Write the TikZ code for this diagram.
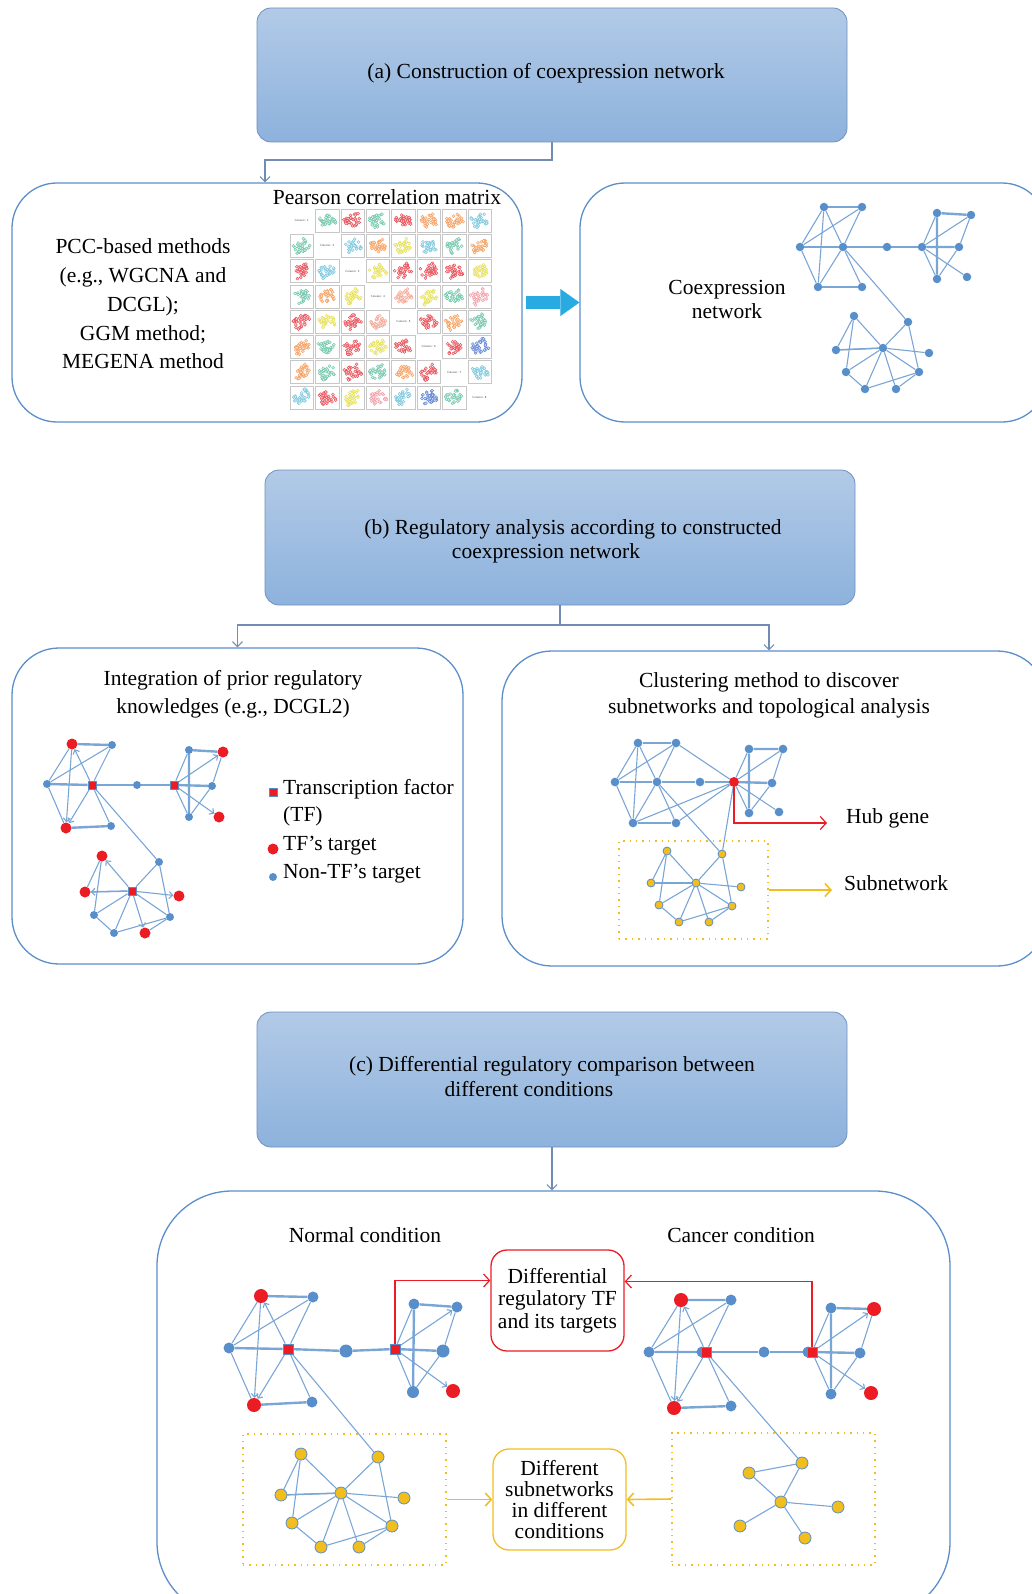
\documentclass[tikz,border=0pt]{standalone}
\usepackage{fontspec}
\setmainfont{Liberation Serif}
\usetikzlibrary{arrows.meta,backgrounds,calc}
\definecolor{lineblue}{RGB}{122,166,214}
\definecolor{nodeblue}{RGB}{88,143,202}
\definecolor{redc}{RGB}{236,28,36}
\definecolor{yellc}{RGB}{242,190,30}
\definecolor{boxblue}{RGB}{92,142,202}
\definecolor{connc}{RGB}{112,140,178}
\definecolor{hdrtop}{RGB}{178,202,231}
\definecolor{hdrbot}{RGB}{141,178,220}
\definecolor{hdrline}{RGB}{110,145,190}
\definecolor{cyanc}{RGB}{40,170,226}
\definecolor{mteal}{RGB}{102,194,165}
\definecolor{mred}{RGB}{232,60,70}
\definecolor{morange}{RGB}{246,150,80}
\definecolor{msalmon}{RGB}{244,160,140}
\definecolor{mpink}{RGB}{242,150,160}
\definecolor{myellow}{RGB}{228,222,70}
\definecolor{mcyan}{RGB}{110,195,220}
\definecolor{mblue}{RGB}{80,120,210}

% six-node cluster (left part of a network)
\newcommand{\aedges}[2]{%
  \draw[tlnk] (#1tl)--(#1tr) (#1l)--(#1h) (#1bl)--(#1br);
  \draw[lnk] (#1tl)--(#1l) (#1l)--(#1tr) (#1tr)--(#1h) (#1l)--(#1bl) (#1h)--(#1br);
  \draw[#2] (#1h)--(#1tl); \draw[#2] (#1h)--(#1bl); \draw[#2] (#1tl)--(#1bl);}
% six-node cluster (right part)
\newcommand{\bedges}[2]{%
  \draw[tlnk] (#1btl)--(#1btr) (#1btl)--(#1bbl) (#1bh)--(#1brt);
  \draw[lnk] (#1bh)--(#1btl) (#1btr)--(#1brt) (#1brt)--(#1bbl) (#1bh)--(#1bbl);
  \draw[#2] (#1bh)--(#1btr); \draw[#2] (#1bh)--(#1bbr);}
% nine-node cluster (bottom part)
\newcommand{\cedges}[2]{%
  \draw[lnk] (#1c1)--(#1c3) (#1c1)--(#1c6) (#1c4)--(#1c2) (#1c2)--(#1c7) (#1c4)--(#1c6)
             (#1c4)--(#1c8) (#1c4)--(#1c7) (#1c6)--(#1c8) (#1c8)--(#1c7) (#1c9)--(#1c7);
  \draw[lnk, line width=1.5pt] (#1c3)--(#1c4);
  \draw[#2] (#1c4)--(#1c1); \draw[#2] (#1c4)--(#1c3); \draw[#2] (#1c4)--(#1c5); \draw[#2] (#1c4)--(#1c9);}

\begin{document}
\begin{tikzpicture}[x=1pt,y=-1pt,
  bn/.style={circle, fill=nodeblue, inner sep=0pt, minimum size=#1}, bn/.default=9pt,
  rn/.style={circle, fill=redc, inner sep=0pt, minimum size=#1}, rn/.default=12pt,
  tf/.style={rectangle, fill=redc, draw=nodeblue, line width=0.8pt, inner sep=0pt, minimum size=#1}, tf/.default=9pt,
  yn/.style={circle, fill=yellc, draw=nodeblue, line width=0.8pt, inner sep=0pt, minimum size=#1}, yn/.default=10pt,
  lnk/.style={draw=lineblue, line width=1.1pt},
  tlnk/.style={draw=lineblue, line width=2.4pt},
  arr/.style={draw=lineblue, line width=1.1pt, -{Straight Barb[length=3.5pt,width=7pt]}},
  bigbox/.style={draw=boxblue, line width=1.3pt, rounded corners=#1, inner sep=0pt},
  hdr/.style={draw=hdrline, line width=0.8pt, rounded corners=14pt, top color=hdrtop, bottom color=hdrbot, minimum width=590pt, minimum height=134pt, inner sep=0pt},
  txt/.style={font=\fontsize{21.5}{26}\selectfont, align=center, inner sep=0pt},
  conn/.style={draw=connc, line width=1.1pt, -{Straight Barb[length=5pt,width=10pt]}},
  redarrow/.style={draw=redc, line width=1.2pt, -{Straight Barb[length=6pt,width=13pt]}},
  yarrow/.style={draw=yellc, line width=1.6pt, -{Straight Barb[length=6pt,width=13pt]}},
  ydot/.style={draw=yellc, line width=1.4pt, dash pattern=on 1.4pt off 5pt, inner sep=0pt}
]
\useasboundingbox (0,0) rectangle (1032,1594);
\clip (0,0) rectangle (1032,1594);

% ---------------- headers
\node[hdr] (hdrA) at (552,75) {};
\node[txt] (hdrAt) at (546,73) {(a) Construction of coexpression network};
\node[hdr, minimum height=135pt] (hdrB) at (560,537.5) {};
\node[txt] (hdrBt1) at (573,529) {(b) Regulatory analysis according to constructed};
\node[txt] (hdrBt2) at (546,553) {coexpression network};
\node[hdr, minimum height=135pt] (hdrC) at (552,1079.5) {};
\node[txt] (hdrCt1) at (552,1066) {(c) Differential regulatory comparison between};
\node[txt] (hdrCt2) at (529,1089) {different conditions};

% ---------------- big boxes
\node[bigbox=45pt, minimum width=510pt, minimum height=239pt] (boxA1) at (267,302.5) {};
\node[bigbox=45pt, minimum width=467pt, minimum height=239pt] (boxA2) at (813.5,302.5) {};
\node[bigbox=47pt, minimum width=451pt, minimum height=316pt] (boxB1) at (237.5,806) {};
\node[bigbox=50pt, minimum width=545pt, minimum height=315pt] (boxB2) at (774.5,808.5) {};
\node[bigbox=75pt, minimum width=793pt, minimum height=426pt] (boxC) at (553.5,1404) {};

% ---------------- connectors between sections
\coordinate (ja) at (265,160);
\draw[conn] (hdrA.south) |- (ja) -- (ja |- boxA1.north);
\coordinate (jb) at (560,625);
\draw[conn] (hdrB.south) -- (jb) -| (boxB1.north);
\draw[conn] (jb) -| ([xshift=-5.5pt]boxB2.north);
\draw[conn] (hdrC.south) -- (hdrC.south |- boxC.north);
\draw[cyanc, line width=13pt, -{Triangle[length=19pt,width=27pt,line width=0.1pt]}] ([xshift=3pt]boxA1.east) -- (boxA2.west);

% ---------------- (a) left box texts and matrix
\node[txt, font=\fontsize{21.5}{28.7}\selectfont] (pcc) at (143,304) {PCC-based methods\\(e.g., WGCNA and\\DCGL);\\GGM method;\\MEGENA method};
\node[txt] (pear) at (387,197) {Pearson correlation matrix};
\pgfmathsetseed{42}
\foreach \mr/\mc/\mcol in {1/2/mteal,1/3/mred,1/4/mteal,1/5/mred,1/6/morange,1/7/morange,1/8/mcyan,
  2/1/mteal,2/3/mcyan,2/4/morange,2/5/myellow,2/6/mcyan,2/7/mteal,2/8/morange,
  3/1/mred,3/2/mcyan,3/4/myellow,3/5/mred,3/6/mred,3/7/mred,3/8/myellow,
  4/1/mteal,4/2/morange,4/3/myellow,4/5/msalmon,4/6/myellow,4/7/mteal,4/8/mpink,
  5/1/mred,5/2/myellow,5/3/mred,5/4/msalmon,5/6/mred,5/7/morange,5/8/mteal,
  6/1/morange,6/2/mteal,6/3/mred,6/4/myellow,6/5/mred,6/7/mred,6/8/mblue,
  7/1/morange,7/2/mteal,7/3/mred,7/4/mteal,7/5/morange,7/6/mred,7/8/mcyan,
  8/1/mcyan,8/2/mred,8/3/myellow,8/4/mpink,8/5/mcyan,8/6/mblue,8/7/mteal} {
  \pgfmathsetmacro{\cxx}{289+(\mc-0.5)*25.4}
  \pgfmathsetmacro{\cyy}{208+(\mr-0.5)*25.25}
  \pgfmathsetmacro{\slp}{0.3+0.5*rnd}
  \draw[black!22, line width=0.5pt] (\cxx-11.7,\cyy-11.6) rectangle (\cxx+11.7,\cyy+11.6);
  \foreach \k in {1,...,32} {
    \pgfmathsetmacro{\ua}{rand}
    \pgfmathsetmacro{\ub}{rand}
    \pgfmathsetmacro{\pxx}{\cxx+6.8*\ua+2.6*\ub}
    \pgfmathsetmacro{\pyy}{\cyy-5.5*\slp*\ua+5.2*\ub}
    \draw[color=\mcol, line width=0.35pt, fill=\mcol!25] (\pxx,\pyy) circle[radius=1.5pt];
  }
}
\foreach \i in {1,...,8} {
  \node[font=\sffamily\fontsize{3}{3.5}\selectfont, inner sep=0pt, text=black!75] (colt\i) at ({289+(\i-0.5)*25.4},{208+(\i-0.5)*25.25}) {Column: \i};
}

% ---------------- (a) right box
\node[txt, font=\fontsize{21.5}{24}\selectfont] (coex) at (727,299) {Coexpression\\network};
\node[bn=8.5pt] (atl) at (824,207) {};
\node[bn=8.5pt] (atr) at (862,207) {};
\node[bn=8.5pt] (al) at (800,247) {};
\node[bn=8.5pt] (ah) at (843,247) {};
\node[bn=8.5pt] (am) at (887,247) {};
\node[bn=8.5pt] (abl) at (818,287) {};
\node[bn=8.5pt] (abr) at (862,287) {};
\node[bn=8.5pt] (abtl) at (937,213) {};
\node[bn=8.5pt] (abtr) at (971,215) {};
\node[bn=8.5pt] (abh) at (922,247) {};
\node[bn=8.5pt] (abrt) at (959,247) {};
\node[bn=8.5pt] (abbl) at (937,279) {};
\node[bn=8.5pt] (abbr) at (967,277) {};
\node[bn=8.5pt] (ac1) at (854,316) {};
\node[bn=8.5pt] (ac2) at (908,322) {};
\node[bn=8.5pt] (ac3) at (836,350) {};
\node[bn=8.5pt] (ac4) at (883,348) {};
\node[bn=8.5pt] (ac5) at (929,353) {};
\node[bn=8.5pt] (ac6) at (846,372) {};
\node[bn=8.5pt] (ac7) at (919,372) {};
\node[bn=8.5pt] (ac8) at (865,389) {};
\node[bn=8.5pt] (ac9) at (896,389) {};

% ---------------- (b) left box
\node[txt, font=\fontsize{21.5}{28}\selectfont] (intg) at (233,694) {Integration of prior regulatory\\knowledges (e.g., DCGL2)};
\node[rn=11pt] (ptl) at (72,744) {};
\node[bn=8pt] (ptr) at (112,745) {};
\node[bn=8pt] (pl) at (47,784) {};
\node[tf=8pt] (ph) at (92,785) {};
\node[rn=11pt] (pbl) at (66,828) {};
\node[bn=8pt] (pbr) at (111,826) {};
\node[bn=8pt] (pm) at (137,785) {};
\node[bn=8pt] (pbtl) at (189,750) {};
\node[rn=11pt] (pbtr) at (223,752) {};
\node[tf=8pt] (pbh) at (174,785) {};
\node[bn=8pt] (pbrt) at (212,786) {};
\node[bn=8pt] (pbbl) at (189,817) {};
\node[rn=11pt] (pbbr) at (219,817) {};
\node[rn=11pt] (pc1) at (102,856) {};
\node[bn=8pt] (pc2) at (159,862) {};
\node[rn=11pt] (pc3) at (85,892) {};
\node[tf=8pt] (pc4) at (132,891) {};
\node[rn=11pt] (pc5) at (179,896) {};
\node[bn=8pt] (pc6) at (94,915) {};
\node[bn=8pt] (pc7) at (170,917) {};
\node[bn=8pt] (pc8) at (114,933) {};
\node[rn=11pt] (pc9) at (145,933) {};
% legend
\node[tf=8pt] (legtf) at (273,792) {};
\node[txt, anchor=mid west] (legt1) at (283,792) {Transcription factor};
\node[txt, anchor=mid west] (legt2) at (283,819) {(TF)};
\node[rn=11pt] (legrn) at (273,849) {};
\node[txt, anchor=mid west] (legt3) at (283,848) {TF’s target};
\node[bn=8pt] (legbn) at (273,877) {};
\node[txt, anchor=mid west] (legt4) at (283,876) {Non-TF’s target};

% ---------------- (b) right box
\node[txt, font=\fontsize{21.5}{26}\selectfont] (clust) at (769,695) {Clustering method to discover\\subnetworks and topological analysis};
\node[bn=8.7pt] (qtl) at (638,743) {};
\node[bn=8.7pt] (qtr) at (676,743) {};
\node[bn=8.7pt] (ql) at (615,782) {};
\node[bn=8.7pt] (qh) at (657,782) {};
\node[bn=8.7pt] (qm) at (700,782) {};
\node[rn=10pt] (qbh) at (734,782) {};
\node[bn=8.7pt] (qbl) at (633,823) {};
\node[bn=8.7pt] (qbr) at (676,823) {};
\node[bn=8.7pt] (qbtl) at (749,749) {};
\node[bn=8.7pt] (qbtr) at (783,749) {};
\node[bn=8.7pt] (qbrt) at (772,783) {};
\node[bn=8.7pt] (qbbl) at (749,813) {};
\node[bn=8.7pt] (qbbr) at (779,812) {};
\node[yn=8pt] (qc1) at (667,851) {};
\node[yn=8pt] (qc2) at (722,854) {};
\node[yn=8pt] (qc3) at (651,883) {};
\node[yn=8pt] (qc4) at (696,883) {};
\node[yn=8pt] (qc5) at (741,887) {};
\node[yn=8pt] (qc6) at (659,905) {};
\node[yn=8pt] (qc7) at (732,906) {};
\node[yn=8pt] (qc8) at (679,922) {};
\node[yn=8pt] (qc9) at (709,922) {};
\node[ydot, minimum width=149pt, minimum height=98pt] (qsub) at (693.5,890) {};
\node[txt, anchor=mid west] (hubt) at (846,821) {Hub gene};
\node[txt, anchor=mid west] (subt) at (844,888) {Subnetwork};
\coordinate (hubend) at (827,823);
\coordinate (subend) at (832,890);
\draw[redarrow] (qbh.south) |- (hubend);
\draw[yarrow] (qsub.east) -- (subend);

% ---------------- (c) box
\node[txt] (normt) at (365,1235) {Normal condition};
\node[txt] (canct) at (741,1235) {Cancer condition};
\node[txt, draw=redc, line width=1.3pt, rounded corners=16pt, minimum width=133pt, minimum height=101pt, font=\fontsize{21.5}{22.5}\selectfont] (diffreg) at (557.5,1300.5) {Differential\\regulatory TF\\and its targets};
\node[txt, draw=yellc, line width=1.3pt, rounded corners=16pt, minimum width=133pt, minimum height=101pt, font=\fontsize{21.5}{20.7}\selectfont] (diffsub) at (559.5,1499.5) {Different\\subnetworks\\in different\\conditions};

% normal network
\node[rn=14pt] (ntl) at (261,1296) {};
\node[bn=11pt] (ntr) at (313,1297) {};
\node[bn=11pt] (nl) at (229,1348) {};
\node[tf=10pt] (nh) at (288,1349) {};
\node[bn=13pt] (nm) at (346,1351) {};
\node[tf=10pt] (nbh) at (395,1349) {};
\node[rn=14pt] (nbl) at (254,1405) {};
\node[bn=11pt] (nbr) at (312,1402) {};
\node[bn=11pt] (nbtl) at (414,1304) {};
\node[bn=11pt] (nbtr) at (457,1307) {};
\node[bn=13pt] (nbrt) at (443,1351) {};
\node[bn=12pt] (nbbl) at (413,1392) {};
\node[rn=14pt] (nbbr) at (453,1391) {};
\node[yn=12pt] (nc1) at (301,1454) {};
\node[yn=12pt] (nc2) at (378,1457) {};
\node[yn=12pt] (nc3) at (281,1495) {};
\node[yn=12pt] (nc4) at (341,1493) {};
\node[yn=12pt] (nc5) at (404,1498) {};
\node[yn=12pt] (nc6) at (292,1523) {};
\node[yn=12pt] (nc7) at (392,1526) {};
\node[yn=12pt] (nc8) at (321,1547) {};
\node[yn=12pt] (nc9) at (359,1547) {};
\node[ydot, minimum width=203pt, minimum height=131pt] (nsub) at (344.5,1499.5) {};

% cancer network
\node[rn=14pt] (ktl) at (681,1300) {};
\node[bn=11pt] (ktr) at (731,1300) {};
\node[bn=11pt] (kl) at (649,1352) {};
\node[bn=11pt] (khb) at (702,1352) {};
\node[tf=10pt] (kh) at (706,1352) {};
\node[bn=11pt] (km) at (764,1352) {};
\node[bn=11pt] (kbhb) at (808,1352) {};
\node[tf=10pt] (kbh) at (812,1352) {};
\node[rn=14pt] (kbl) at (674,1408) {};
\node[bn=11pt] (kbr) at (731,1406) {};
\node[bn=11pt] (kbtl) at (831,1308) {};
\node[rn=14pt] (kbtr) at (874,1309) {};
\node[bn=11pt] (kbrt) at (860,1353) {};
\node[bn=11pt] (kbbl) at (831,1394) {};
\node[rn=14pt] (kbbr) at (871,1393) {};
\node[yn=12pt] (ky1) at (802,1463) {};
\node[yn=12pt] (ky2) at (749,1473) {};
\node[yn=12pt] (ky3) at (781,1502) {};
\node[yn=12pt] (ky4) at (838,1507) {};
\node[yn=12pt] (ky5) at (740,1526) {};
\node[yn=12pt] (ky6) at (805,1538) {};
\node[ydot, minimum width=203pt, minimum height=132pt] (ksub) at (773.5,1499) {};

\draw[redarrow] (nbh.north) |- ([yshift=20pt]diffreg.west);
\draw[redarrow] (kbh.north) |- ([yshift=19pt]diffreg.east);
\draw[yarrow] (nsub.east) -- (diffsub.west);
\draw[yarrow] (ksub.west) -- (diffsub.east);

% ---------------- all network links (behind nodes)
\begin{scope}[on background layer]
  % (a)
  \aedges{a}{lnk} \bedges{a}{lnk} \cedges{a}{lnk}
  \draw[tlnk] (ah)--(am) (am)--(abh);
  \draw[lnk] (ah)--(ac2);
  % (b) left
  \aedges{p}{arr} \bedges{p}{arr} \cedges{p}{arr}
  \draw[tlnk] (ph)--(pm) (pm)--(pbh);
  \draw[lnk] (ph)--(pc2);
  % (b) right
  \aedges{q}{lnk} \bedges{q}{lnk} \cedges{q}{lnk}
  \draw[tlnk] (qh)--(qm) (qm)--(qbh);
  \draw[lnk] (qtr)--(qbh) (qbl)--(qbh) (qbr)--(qbh) (qh)--(qc2) (qbh)--(qc2);
  % (c) normal
  \aedges{n}{arr} \bedges{n}{arr} \cedges{n}{lnk}
  \draw[tlnk] (nh)--(nm) (nm)--(nbh);
  \draw[lnk] (nh)--(nc2);
  % (c) cancer
  \aedges{k}{arr} \bedges{k}{arr}
  \draw[tlnk] (kh)--(km) (km)--(kbh);
  \draw[lnk] (kh)--(ky1) (ky2)--(ky1) (ky1)--(ky3) (ky2)--(ky3) (ky3)--(ky4) (ky3)--(ky5) (ky3)--(ky6);
\end{scope}
\end{tikzpicture}
\end{document}
